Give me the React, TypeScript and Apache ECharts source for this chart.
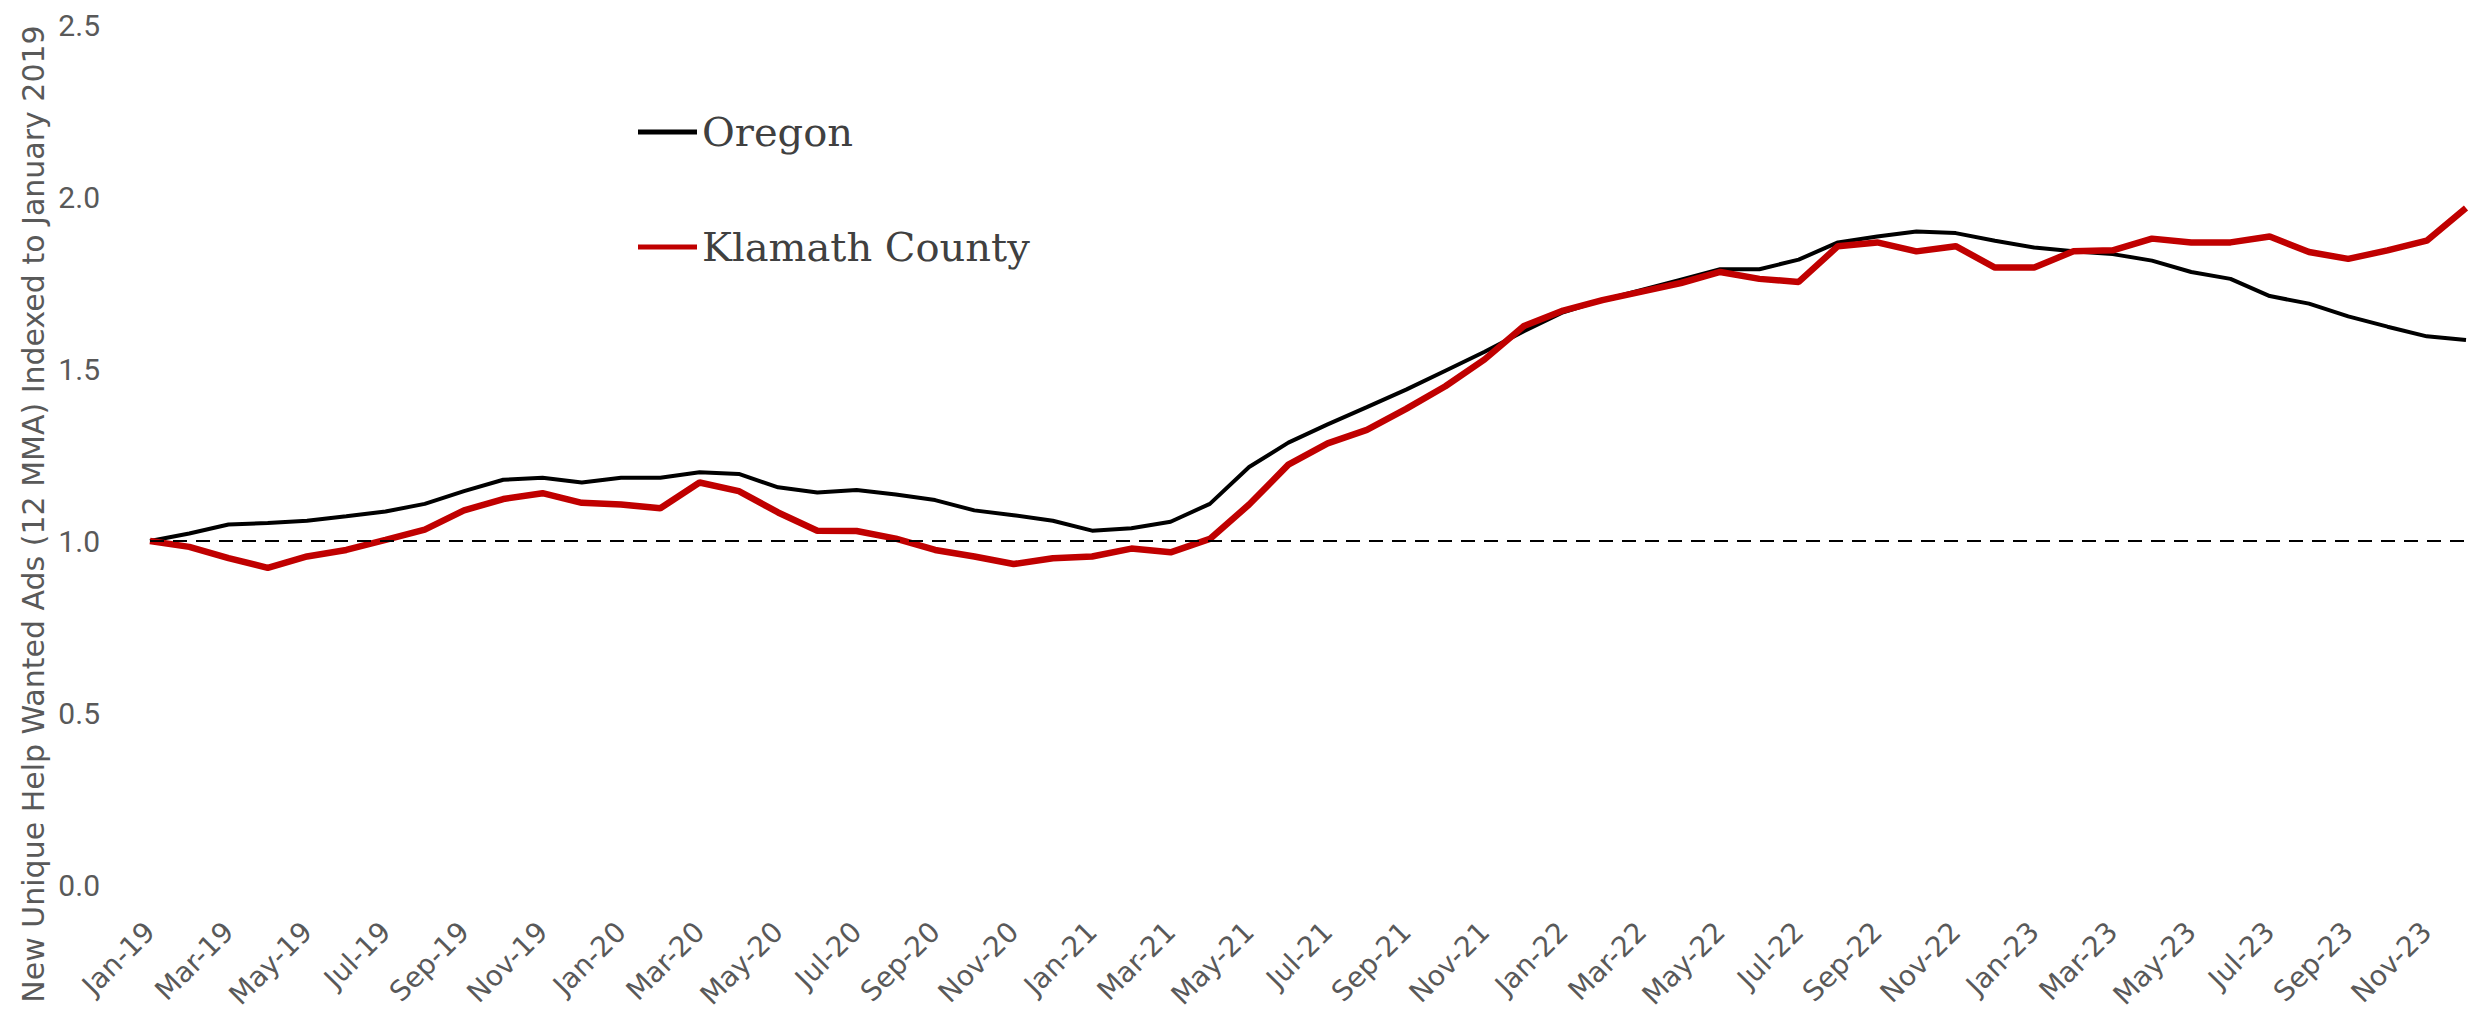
import React, { useEffect, useRef } from "react";
import * as echarts from "echarts";

const months = [
  "Jan-19","Feb-19","Mar-19","Apr-19","May-19","Jun-19","Jul-19","Aug-19","Sep-19","Oct-19","Nov-19","Dec-19",
  "Jan-20","Feb-20","Mar-20","Apr-20","May-20","Jun-20","Jul-20","Aug-20","Sep-20","Oct-20","Nov-20","Dec-20",
  "Jan-21","Feb-21","Mar-21","Apr-21","May-21","Jun-21","Jul-21","Aug-21","Sep-21","Oct-21","Nov-21","Dec-21",
  "Jan-22","Feb-22","Mar-22","Apr-22","May-22","Jun-22","Jul-22","Aug-22","Sep-22","Oct-22","Nov-22","Dec-22",
  "Jan-23","Feb-23","Mar-23","Apr-23","May-23","Jun-23","Jul-23","Aug-23","Sep-23","Oct-23","Nov-23","Dec-23",
];

const oregon = [
  1.0, 1.022, 1.048, 1.052, 1.059, 1.072, 1.086, 1.108, 1.145, 1.178, 1.184, 1.17,
  1.184, 1.184, 1.2, 1.195, 1.156, 1.141, 1.148, 1.135, 1.119, 1.089, 1.075, 1.059,
  1.03, 1.037, 1.056, 1.108, 1.215, 1.286, 1.339, 1.389, 1.44, 1.495, 1.55, 1.61,
  1.665, 1.7, 1.73, 1.76, 1.79, 1.79, 1.818, 1.868, 1.885, 1.9, 1.895, 1.873,
  1.853, 1.842, 1.834, 1.815, 1.782, 1.762, 1.712, 1.69, 1.653, 1.623, 1.595, 1.584,
];

const klamath = [
  1.0, 0.983, 0.95, 0.922, 0.955, 0.974, 1.003, 1.033, 1.089, 1.122, 1.139, 1.111,
  1.106, 1.095, 1.17, 1.145, 1.083, 1.03, 1.029, 1.007, 0.974, 0.955, 0.933, 0.95,
  0.955, 0.978, 0.967, 1.006, 1.106, 1.222, 1.284, 1.323, 1.384, 1.45, 1.528, 1.625,
  1.67, 1.7, 1.725, 1.75, 1.782, 1.762, 1.753, 1.857, 1.868, 1.842, 1.857, 1.795,
  1.795, 1.842, 1.845, 1.879, 1.868, 1.868, 1.885, 1.84, 1.82, 1.845, 1.873, 1.968,
];

const yTicks = { min: 0, max: 2.5, interval: 0.5 };
const yTitle = "New Unique Help Wanted Ads (12 MMA) Indexed to January 2019";
const seriesNames = ["Oregon", "Klamath County"];

const SERIF = "'DejaVu Serif', serif";
const SANS = "'DejaVu Sans', Verdana, sans-serif";
const NUM = "Roboto, sans-serif";

export default function App() {
  const ref = useRef<HTMLDivElement>(null);
  useEffect(() => {
    document.body.style.margin = "0";
    const chart = echarts.init(ref.current!, undefined, { renderer: "svg" });
    chart.setOption({
      animation: false,
      backgroundColor: "#ffffff",
      grid: { left: 150, right: 22, top: 25, bottom: 136, containLabel: false },
      legend: {
        orient: "vertical",
        left: 633,
        top: 104,
        itemGap: 69,
        itemWidth: 59,
        itemHeight: 5,
        icon: "rect",
        data: seriesNames,
        textStyle: { fontFamily: SERIF, fontSize: 40, color: "#404040", lineHeight: 46 },
      },
      xAxis: {
        type: "category",
        data: months,
        boundaryGap: false,
        axisLine: { show: false },
        axisTick: { show: false },
        axisLabel: {
          interval: 1,
          rotate: 45,
          margin: 42,
          fontFamily: SANS,
          fontSize: 28,
          color: "#595959",
        },
        splitLine: { show: false },
      },
      yAxis: {
        type: "value",
        min: yTicks.min,
        max: yTicks.max,
        interval: yTicks.interval,
        axisLine: { show: false },
        axisTick: { show: false },
        splitLine: { show: false },
        axisLabel: {
          margin: 50,
          fontFamily: NUM,
          fontSize: 30,
          color: "#595959",
          formatter: (v: number) => v.toFixed(1),
        },
      },
      graphic: [
        {
          type: "text",
          x: 33,
          y: 514,
          rotation: Math.PI / 2,
          style: {
            text: yTitle,
            fontFamily: SANS,
            fontSize: 30,
            fill: "#595959",
            align: "center",
            verticalAlign: "middle",
          },
        },
      ],
      series: [
        {
          name: seriesNames[0],
          type: "line",
          data: oregon,
          symbol: "none",
          showSymbol: false,
          lineStyle: { color: "#000000", width: 4 },
          itemStyle: { color: "#000000" },
          z: 2,
          markLine: {
            silent: true,
            symbol: ["none", "none"],
            label: { show: false },
            lineStyle: { type: [14, 9], color: "#000000", width: 2 },
            data: [{ yAxis: 1 }],
          },
        },
        {
          name: seriesNames[1],
          type: "line",
          data: klamath,
          symbol: "none",
          showSymbol: false,
          lineStyle: { color: "#C00000", width: 6.5 },
          itemStyle: { color: "#C00000" },
          z: 3,
        },
      ],
    });
    return () => chart.dispose();
  }, []);
  return <div ref={ref} style={{ width: 2488, height: 1021 }} />;
}
